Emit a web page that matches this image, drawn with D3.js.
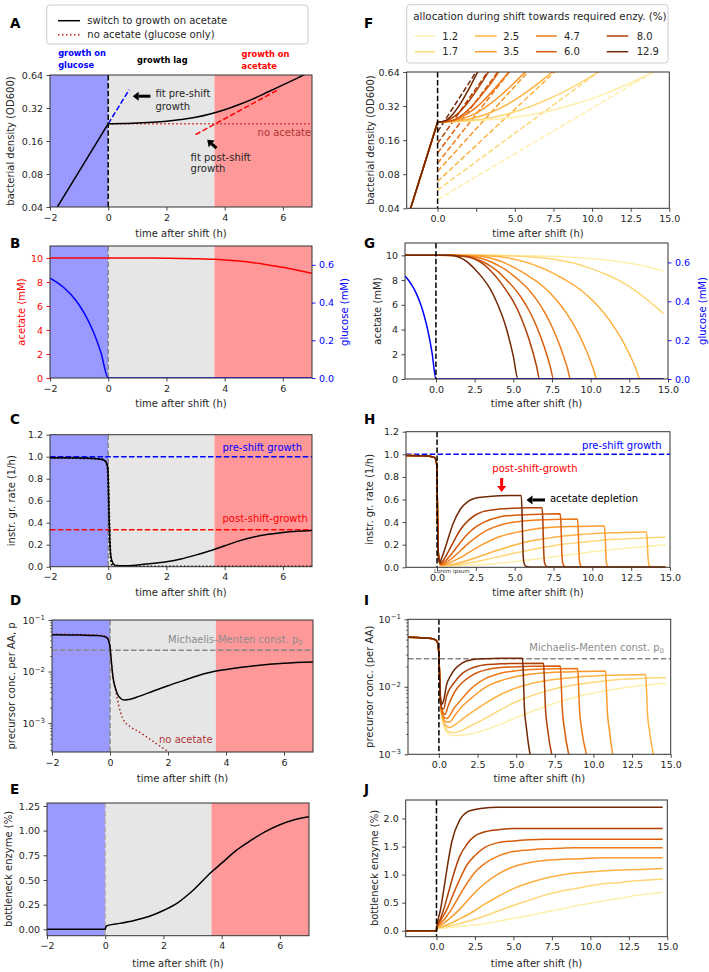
<!DOCTYPE html>
<html><head><meta charset="utf-8">
<script src="https://cdn.jsdelivr.net/npm/d3@7/dist/d3.min.js"></script>
<style>
html,body{margin:0;padding:0;background:#fff;}
svg{display:block;font-family:"DejaVu Sans",sans-serif;}
</style></head><body>
<svg id="fig" width="709" height="972"></svg>
<script>
// ================= DATA =================
// ---- left column (single simulation) ----
const shiftRegions = [[-2,0,"glucose"],[0,3.65,"lag"],[3.65,7,"acetate"]];
const odPreShift = [[-2,0.0311],[-1,0.0846],[0,0.23]];
const odSwitch = [[0,0.23],[0.5,0.231],[1,0.234],[1.5,0.237],[2,0.242],[2.5,0.251],[3,0.263],[3.5,0.282],[4,0.308],[4.5,0.344],[5,0.39],[5.5,0.45],[6,0.52],[6.5,0.6],[7,0.7]];
const odNoAcetate = [[0,0.23],[7,0.23]];
const fitPreShift = [[0,0.23],[0.72,0.47]];
const fitPostShift = [[3.0,0.183],[5.87,0.475]];
const acetateB = [[-2,10],[0,10],[1,10],[2,9.98],[3,9.94],[3.65,9.89],[4,9.84],[4.5,9.74],[5,9.6],[5.5,9.42],[6,9.22],[6.5,8.98],[7,8.72]];
const glucose = [[-2,0.53],[-1.75,0.506],[-1.5,0.476],[-1.25,0.437],[-1,0.387],[-0.75,0.323],[-0.5,0.241],[-0.25,0.135],[0,0],[14.7,0]];
const rateSwitch = [[-2,0.99],[-1,0.988],[-0.5,0.984],[-0.2,0.975],[-0.1,0.96],[-0.03,0.92],[0,0.8],[0.03,0.45],[0.06,0.2],[0.1,0.08],[0.2,0.02],[0.3,0.01],[0.5,0.008],[1,0.015],[1.5,0.028],[2,0.045],[2.5,0.07],[3,0.105],[3.5,0.145],[4,0.19],[4.5,0.235],[5,0.27],[5.5,0.295],[6,0.312],[6.5,0.323],[7,0.33]];
const rateNoAcetate = [[-2,0.99],[-1,0.988],[-0.5,0.984],[-0.2,0.975],[-0.1,0.96],[-0.03,0.92],[0,0.8],[0.03,0.45],[0.06,0.2],[0.1,0.05],[0.15,0.005],[0.3,0],[7,0]];
const preShiftRate = 1.0, postShiftRate = 0.337;
const precSwitch = [[-2,0.052],[-1,0.051],[-0.5,0.05],[-0.2,0.048],[-0.1,0.045],[-0.05,0.04],[0,0.03],[0.05,0.015],[0.1,0.008],[0.2,0.0045],[0.3,0.0033],[0.5,0.0028],[0.7,0.0029],[1,0.0033],[1.5,0.0042],[2,0.0053],[2.5,0.0066],[3,0.0082],[3.65,0.0102],[4,0.011],[5,0.013],[6,0.0145],[7,0.0153]];
const precNoAcetate = [[-2,0.053],[-1,0.052],[-0.5,0.051],[-0.2,0.049],[-0.1,0.046],[-0.05,0.04],[0,0.03],[0.05,0.015],[0.1,0.008],[0.2,0.0042],[0.3,0.0022],[0.45,0.0012],[0.7,0.00085],[1,0.00068],[1.3,0.00052],[1.6,0.0004],[2,0.00028]];
const michaelisMenten = 0.026;
const enzymeSwitch = [[-2,0],[0,0],[0.03,0.03],[0.1,0.04],[0.5,0.06],[1,0.09],[1.5,0.13],[2,0.19],[2.5,0.27],[3,0.39],[3.65,0.58],[4,0.67],[4.5,0.8],[5,0.9],[5.5,0.99],[6,1.06],[6.5,1.11],[7,1.14]];

// ---- right column (allocation scan) ----
const allocation = ["1.2","1.7","2.5","3.5","4.7","6.0","8.0","12.9"];
const odScanPre = [[-2,0.0311],[-1,0.0846],[0,0.23]];
const odScan = [
 [[0,0.23],[1,0.2325],[2,0.236],[3,0.24],[4,0.246],[5,0.255],[6,0.268],[7,0.285],[8,0.308],[9,0.337],[10,0.374],[11,0.419],[12,0.479],[13,0.552],[14,0.643],[15,0.76]],
 [[0,0.23],[1,0.233],[2,0.238],[3,0.247],[4,0.262],[5,0.285],[6,0.317],[7,0.36],[8,0.417],[9,0.493],[10,0.592],[11,0.716]],
 [[0,0.23],[1,0.235],[2,0.245],[3,0.267],[4,0.304],[5,0.363],[6,0.45],[7,0.574],[8,0.747]],
 [[0,0.23],[1,0.237],[2,0.258],[3,0.306],[3.5,0.343],[4,0.389],[5,0.519],[5.5,0.607],[6,0.713]],
 [[0,0.23],[0.5,0.233],[1,0.24],[1.5,0.254],[2,0.278],[2.5,0.312],[3,0.36],[3.5,0.425],[4,0.508],[4.5,0.614],[5,0.747]],
 [[0,0.23],[0.5,0.233],[1,0.239],[1.5,0.261],[2,0.298],[2.5,0.351],[3,0.425],[3.5,0.52],[4,0.656]],
 [[0,0.23],[0.5,0.236],[1,0.254],[1.5,0.291],[2,0.35],[2.5,0.436],[3,0.554],[3.5,0.711]],
 [[0,0.23],[0.5,0.238],[1,0.273],[1.5,0.34],[2,0.447],[2.5,0.604],[3,0.823]]
];
const odScanFit = [
 [[0,0.048],[14.96,0.77]],
 [[0,0.058],[11.4,0.806]],
 [[0,0.069],[8.58,0.859]],
 [[0,0.085],[6.84,0.904]],
 [[0,0.10],[5.65,0.955]],
 [[0,0.123],[4.89,0.978]],
 [[0,0.15],[4.24,1.002]],
 [[0,0.19],[3.49,1.043]]
];
const acetateScan = [
 [[-2,10],[0,10],[4,10],[6,9.97],[8,9.9],[9,9.83],[10,9.74],[11,9.62],[12,9.46],[13,9.25],[14,8.97],[14.7,8.72]],
 [[-2,10],[0,10],[3,10],[5,9.95],[6,9.88],[7,9.78],[8,9.6],[9,9.35],[10,8.95],[11,8.45],[12,7.85],[13,7.05],[14,6.05],[14.7,5.3]],
 [[-2,10],[0,10],[2,10],[3,9.98],[3.5,9.95],[4,9.9],[4.5,9.82],[5,9.7],[5.5,9.55],[6,9.38],[6.5,9.15],[7,8.9],[7.5,8.6],[8,8.27],[8.5,7.92],[9,7.52],[9.5,7.06],[10,6.5],[10.5,5.86],[11,5.11],[11.5,4.23],[12,3.22],[12.5,2.02],[12.9,0.92],[13.2,0],[14.7,0]],
 [[-2,10],[0,10],[2,9.99],[2.5,9.96],[3,9.9],[3.5,9.78],[4,9.6],[4.5,9.35],[5,9.05],[5.5,8.7],[6,8.32],[6.5,7.91],[7,7.4],[7.5,6.8],[8,6.07],[8.5,5.21],[9,4.17],[9.5,2.93],[10.2,0.73],[10.4,0],[14.7,0]],
 [[-2,10],[0,10],[1.5,9.99],[2,9.95],[2.5,9.87],[3,9.72],[3.5,9.5],[4,9.2],[4.5,8.85],[5,8.36],[5.5,7.84],[6,7.21],[6.5,6.42],[7,5.45],[7.5,4.23],[8,2.73],[8.5,0.865],[8.7,0],[14.7,0]],
 [[-2,10],[0,10],[1,10],[1.5,9.97],[2,9.9],[2.5,9.75],[3,9.5],[3.5,9.15],[4,8.7],[4.5,8.09],[5,7.43],[5.5,6.61],[6,5.58],[6.5,4.27],[7,2.6],[7.4,0.95],[7.6,0],[14.7,0]],
 [[-2,10],[0,10],[1,10],[1.5,9.97],[2,9.88],[2.5,9.7],[3,9.35],[3.5,8.8],[4,8.1],[4.5,7.25],[5,6.27],[5.5,4.97],[6,3.27],[6.5,1.06],[6.7,0],[14.7,0]],
 [[-2,10],[0,10],[0.5,10],[1,9.98],[1.5,9.85],[2,9.5],[2.5,8.9],[3,8.2],[3.5,7.3],[4,6.0],[4.5,4.3],[5,1.85],[5.3,0],[14.7,0]]
];
const rateScanPre = [[-2,0.99],[-1,0.988],[-0.5,0.984],[-0.2,0.975],[-0.1,0.96],[-0.03,0.92],[0,0.8],[0.03,0.45],[0.06,0.2],[0.1,0.09],[0.15,0.05]];
const rateScan = [
 [[0.2,0.018],[0.5,0.012],[1,0.014],[2,0.019],[3,0.025],[4,0.036],[5,0.05],[6,0.066],[7,0.084],[8,0.102],[9,0.12],[10,0.137],[11,0.152],[12,0.166],[13,0.179],[14,0.191],[14.7,0.2]],
 [[0.2,0.02],[0.5,0.014],[1,0.018],[2,0.038],[3,0.063],[4,0.094],[5,0.126],[6,0.154],[7,0.179],[8,0.202],[9,0.217],[10,0.23],[11,0.244],[12,0.25],[13,0.258],[14,0.264],[14.7,0.266]],
 [[0.2,0.022],[0.25,0.015],[0.5,0.018],[1,0.026],[1.5,0.043],[2,0.062],[2.5,0.085],[3,0.109],[4,0.155],[5,0.197],[6,0.232],[7,0.254],[8,0.275],[9,0.287],[10,0.298],[11,0.304],[12,0.309],[13,0.311],[13.48,0.312],[13.53,0.25],[13.58,0.1],[13.64,0.022],[13.77,0.005],[14,0.002],[14.7,0]],
 [[0.2,0.025],[0.25,0.02],[0.5,0.025],[1,0.052],[1.5,0.085],[2,0.128],[2.5,0.168],[3,0.207],[4,0.27],[5,0.307],[6,0.333],[7,0.35],[8,0.358],[9,0.361],[10,0.364],[10.77,0.366],[10.82,0.29],[10.87,0.11],[10.93,0.025],[11.06,0.005],[11.3,0.002],[14.7,0]],
 [[0.2,0.028],[0.25,0.024],[0.5,0.034],[1,0.084],[1.5,0.146],[2,0.209],[2.5,0.264],[3,0.312],[4,0.37],[5,0.401],[6,0.415],[7,0.421],[8,0.425],[9.04,0.427],[9.09,0.34],[9.14,0.13],[9.2,0.03],[9.33,0.006],[9.6,0.002],[14.7,0]],
 [[0.2,0.03],[0.25,0.028],[0.5,0.052],[1,0.13],[1.5,0.22],[2,0.299],[2.5,0.358],[3,0.398],[4,0.446],[5,0.461],[6,0.467],[7,0.472],[7.93,0.474],[7.98,0.38],[8.03,0.15],[8.09,0.035],[8.22,0.007],[8.5,0.002],[14.7,0]],
 [[0.2,0.035],[0.25,0.037],[0.5,0.084],[1,0.21],[1.5,0.332],[2,0.413],[2.5,0.465],[3,0.495],[4,0.515],[5,0.523],[6,0.527],[6.76,0.527],[6.81,0.42],[6.86,0.17],[6.92,0.04],[7.05,0.008],[7.3,0.002],[14.7,0]],
 [[0.2,0.045],[0.25,0.064],[0.5,0.16],[0.75,0.27],[1,0.375],[1.5,0.514],[2,0.584],[2.5,0.613],[3,0.622],[4,0.633],[5,0.635],[5.42,0.635],[5.47,0.5],[5.52,0.2],[5.58,0.05],[5.7,0.01],[6,0.003],[14.7,0]]
];
const precScanPre = [[-2,0.054],[-1,0.053],[-0.5,0.052],[-0.2,0.049],[-0.1,0.046],[-0.05,0.04],[0,0.03],[0.05,0.013],[0.1,0.0065]];
const precScan = [
 [[0.15,0.004],[0.2,0.0034],[0.3,0.0027],[0.5,0.0021],[0.8,0.0019],[1,0.0019],[2,0.002],[3,0.0023],[4,0.0028],[5,0.0035],[6,0.0043],[7,0.0052],[8,0.0062],[9,0.0072],[10,0.0081],[11,0.0089],[12,0.0097],[13,0.0104],[14,0.011],[14.7,0.0113]],
 [[0.15,0.0042],[0.2,0.0036],[0.3,0.0029],[0.5,0.0023],[0.8,0.0021],[1,0.0021],[2,0.0026],[3,0.0034],[4,0.0046],[5,0.006],[6,0.0074],[7,0.0087],[8,0.0099],[9,0.0109],[10,0.0117],[11,0.0124],[12,0.0129],[13,0.0133],[14,0.0136],[14.7,0.0137]],
 [[0.15,0.0044],[0.2,0.0038],[0.3,0.0031],[0.5,0.0026],[0.7,0.0025],[1,0.0027],[1.5,0.0033],[2,0.004],[2.5,0.0048],[3,0.0057],[4,0.0077],[5,0.0096],[6,0.0112],[7,0.0124],[8,0.0133],[9,0.014],[10,0.0144],[11,0.0148],[12,0.015],[13.38,0.0152],[13.43,0.0095],[13.5,0.004],[13.63,0.0022],[13.88,0.001],[14.05,0.0007]],
 [[0.15,0.0046],[0.2,0.0041],[0.3,0.0034],[0.5,0.003],[0.7,0.003],[1,0.0037],[1.5,0.0051],[2,0.0065],[2.5,0.0081],[3,0.0098],[4,0.0123],[5,0.0142],[6,0.0155],[7,0.0162],[8,0.0166],[9,0.0168],[10,0.017],[10.78,0.0171],[10.83,0.0105],[10.9,0.0043],[11.03,0.0023],[11.25,0.001],[11.45,0.0007]],
 [[0.15,0.0048],[0.2,0.0042],[0.3,0.0036],[0.5,0.0034],[1,0.0049],[1.5,0.0067],[2,0.009],[2.5,0.0112],[3,0.0132],[4,0.0159],[5,0.0173],[6,0.0181],[7,0.0184],[8.98,0.0187],[9.03,0.0115],[9.1,0.0046],[9.23,0.0024],[9.55,0.001],[9.75,0.0007]],
 [[0.15,0.005],[0.2,0.0045],[0.4,0.0039],[0.6,0.0052],[1,0.0083],[1.5,0.0115],[2,0.0142],[2.5,0.0163],[3,0.0177],[4,0.0193],[5,0.0198],[6,0.0201],[7.86,0.0203],[7.91,0.0123],[7.98,0.0048],[8.11,0.0025],[8.4,0.001],[8.6,0.0007]],
 [[0.15,0.0052],[0.2,0.0048],[0.3,0.0047],[0.5,0.0073],[1,0.0116],[1.5,0.0157],[2,0.0184],[2.5,0.0202],[3,0.0212],[4,0.0219],[5,0.0222],[6.77,0.0223],[6.82,0.0135],[6.89,0.005],[7.02,0.0025],[7.3,0.001],[7.5,0.0007]],
 [[0.15,0.0056],[0.2,0.0055],[0.3,0.0062],[0.5,0.0108],[0.75,0.0145],[1,0.0179],[1.5,0.0225],[2,0.0248],[2.5,0.0258],[3,0.0261],[4,0.0264],[5.41,0.0265],[5.46,0.016],[5.53,0.005],[5.66,0.0025],[5.9,0.001],[6.1,0.0007]]
];
const enzymeScan = [
 [[-2,0],[0,0],[0.03,0.03],[1,0.06],[2,0.088],[3,0.12],[4,0.17],[5,0.22],[6,0.27],[7,0.33],[8,0.38],[9,0.44],[10,0.49],[11,0.54],[12,0.58],[13,0.63],[14,0.66],[14.7,0.685]],
 [[-2,0],[0,0],[0.03,0.04],[0.5,0.067],[1,0.093],[2,0.165],[3,0.25],[4,0.35],[5,0.45],[6,0.54],[7,0.63],[8,0.7],[9,0.75],[10,0.8],[11,0.84],[12,0.86],[13,0.89],[14,0.91],[14.7,0.915]],
 [[-2,0],[0,0],[0.03,0.05],[0.25,0.07],[0.5,0.09],[1,0.14],[1.5,0.21],[2,0.28],[2.5,0.36],[3,0.45],[4,0.61],[5,0.75],[6,0.85],[7,0.93],[8,0.99],[9,1.03],[10,1.05],[11,1.07],[12,1.08],[13,1.09],[14,1.1],[14.7,1.11]],
 [[-2,0],[0,0],[0.03,0.06],[0.25,0.1],[0.5,0.14],[1,0.25],[1.5,0.38],[2,0.53],[2.5,0.68],[3,0.81],[4,1.01],[5,1.14],[6,1.21],[7,1.25],[8,1.27],[9,1.28],[10,1.29],[11,1.3],[14.7,1.3]],
 [[-2,0],[0,0],[0.03,0.07],[0.25,0.13],[0.5,0.2],[0.75,0.29],[1,0.39],[1.5,0.63],[2,0.85],[2.5,1.04],[3,1.17],[4,1.33],[5,1.41],[6,1.44],[7,1.46],[8,1.47],[9,1.48],[14.7,1.48]],
 [[-2,0],[0,0],[0.03,0.08],[0.25,0.17],[0.5,0.29],[0.75,0.42],[1,0.59],[1.5,0.91],[2,1.18],[2.5,1.34],[3,1.46],[4,1.57],[5,1.6],[6,1.62],[7,1.63],[14.7,1.63]],
 [[-2,0],[0,0],[0.03,0.08],[0.25,0.21],[0.5,0.41],[0.75,0.65],[1,0.9],[1.5,1.32],[2,1.55],[2.5,1.69],[3,1.75],[4,1.8],[5,1.82],[14.7,1.82]],
 [[-2,0],[0,0],[0.03,0.08],[0.25,0.36],[0.5,0.78],[0.75,1.22],[1,1.59],[1.5,1.97],[2,2.12],[2.5,2.16],[3,2.185],[4,2.2],[14.7,2.2]]
];

// tick values / labels
const xTicksLeft = [-2,0,2,4,6], xLabelsLeft = ["\u22122","0","2","4","6"];
const xTicksRight = [0,2.5,5,7.5,10,12.5,15];
const xLabelsRight = ["0.0","2.5","5.0","7.5","10.0","12.5","15.0"];
const xLabelsF = ["0.0","","5.0","7.5","10.0","12.5","15.0"];
const odTicks = [0.04,0.08,0.16,0.32,0.64], odLabels = ["0.04","0.08","0.16","0.32","0.64"];
const acetTicks = [0,2,4,6,8,10], glucTicks = [0,0.2,0.4,0.6], glucLabels=["0.0","0.2","0.4","0.6"];
const rateTicks = [0,0.2,0.4,0.6,0.8,1.0,1.2], rateLabels=["0.0","0.2","0.4","0.6","0.8","1.0","1.2"];
const enzTicksE = [0,0.25,0.5,0.75,1,1.25], enzLabelsE=["0.00","0.25","0.50","0.75","1.00","1.25"];
const enzTicksJ = [0,0.5,1,1.5,2], enzLabelsJ=["0.0","0.5","1.0","1.5","2.0"];

// ================= DRAW =================
const svg = d3.select("#fig");
const FONT = '"DejaVu Sans", sans-serif';
const TXT = '#262626';
const BLUE='#0000ff', RED='#ff0000';
const allocColor = i => d3.interpolateYlOrBr([0.18,0.3,0.42,0.5,0.6,0.7,0.82,0.97][i]);

let clipN=0;
function panel(x0,x1,y0,y1,xd,yd,log){
  const g=svg.append('g');
  const x=d3.scaleLinear().domain(xd).range([x0,x1]);
  const y=(log?d3.scaleLog():d3.scaleLinear()).domain(yd).range([y1,y0]);
  const id='cp'+(clipN++);
  svg.append('clipPath').attr('id',id).append('rect').attr('x',x0).attr('y',y0).attr('width',x1-x0).attr('height',y1-y0);
  const plot=g.append('g').attr('clip-path',`url(#${id})`);
  return {g,plot,x,y,o:{x0,x1,y0,y1}};
}
function shade(p){
  const cols={glucose:'#9999ff',lag:'#e6e6e6',acetate:'#ff9999'};
  shiftRegions.forEach(r=>{
    p.plot.append('rect').attr('x',p.x(r[0])).attr('width',p.x(r[1])-p.x(r[0]))
     .attr('y',p.o.y0).attr('height',p.o.y1-p.o.y0).attr('fill',cols[r[2]]);
  });
}
function frame(p){
  p.g.append('rect').attr('x',p.o.x0).attr('y',p.o.y0).attr('width',p.o.x1-p.o.x0).attr('height',p.o.y1-p.o.y0)
   .attr('fill','none').attr('stroke','#333').attr('stroke-width',1);
}
function styleAxis(a,color){
  a.select('.domain').remove();
  a.selectAll('.tick line').attr('stroke','#333').attr('stroke-width',0.9);
  a.selectAll('.tick text').attr('fill',color||TXT).attr('font-size',9.5).attr('font-family',FONT);
}
function xAxis(p,vals,labs){
  const a=p.g.append('g').attr('transform',`translate(0,${p.o.y1})`)
   .call(d3.axisBottom(p.x).tickValues(vals).tickFormat((d,i)=>labs[i]).tickSize(3.5).tickPadding(3.5));
  styleAxis(a);
}
function yAxis(p,scale,vals,labs,right,color){
  const gen=right?d3.axisRight(scale):d3.axisLeft(scale);
  const a=p.g.append('g').attr('transform',`translate(${right?p.o.x1:p.o.x0},0)`)
   .call(gen.tickValues(vals).tickFormat((d,i)=>labs[i]).tickSize(3.5).tickPadding(3.5));
  styleAxis(a,color);
  if(color) a.selectAll('.tick line').attr('stroke',color);
  return a;
}
function logYAxis(p,majors,minors){
  const a=p.g.append('g').attr('transform',`translate(${p.o.x0},0)`)
   .call(d3.axisLeft(p.y).tickValues(majors).tickFormat(()=>'').tickSize(3.5).tickPadding(3.5));
  styleAxis(a);
  a.selectAll('.tick text').each(function(d){
    const t=d3.select(this); t.text(null);
    t.append('tspan').text('10');
    t.append('tspan').attr('dy','-0.5em').attr('font-size',7).text('\u2212'+Math.round(-Math.log10(d)));
  });
  const m=p.g.append('g').attr('transform',`translate(${p.o.x0},0)`)
   .call(d3.axisLeft(p.y).tickValues(minors).tickFormat(()=>'').tickSize(2));
  m.select('.domain').remove(); m.selectAll('.tick line').attr('stroke','#333').attr('stroke-width',0.7);
}
function minorLog(lo,hi){const r=[];for(let e=lo;e<hi;e++)for(let k=2;k<10;k++){r.push(k*Math.pow(10,e));}return r;}
function xTitle(p,yb){
  p.g.append('text').attr('x',(p.o.x0+p.o.x1)/2).attr('y',yb).attr('text-anchor','middle')
   .attr('font-size',10).attr('fill',TXT).text('time after shift (h)');
}
function yTitle(xb,yc,txt,color){
  svg.append('text').attr('transform',`translate(${xb},${yc}) rotate(-90)`).attr('text-anchor','middle')
   .attr('font-size',10).attr('fill',color||TXT).text(txt);
}
function letter(x,y,t){
  svg.append('text').attr('x',x).attr('y',y).attr('font-size',13.5).attr('font-weight','bold').attr('fill','#000').text(t);
}
function path(p,data,color,w,dash,curve){
  const ln=d3.line().x(d=>p.x(d[0])).y(d=>p.y(d[1])).curve(curve||d3.curveMonotoneX);
  return p.plot.append('path').datum(data).attr('d',ln).attr('fill','none').attr('stroke',color)
    .attr('stroke-width',w||1.5).attr('stroke-dasharray',dash||null).attr('stroke-linejoin','round');
}
function vline(p,xv,color,dash){
  p.plot.append('line').attr('x1',p.x(xv)).attr('x2',p.x(xv)).attr('y1',p.o.y0).attr('y2',p.o.y1)
   .attr('stroke',color).attr('stroke-width',1.5).attr('stroke-dasharray',dash||'5.5,2.4');
}
function hline(p,yv,color){
  p.plot.append('line').attr('x1',p.o.x0).attr('x2',p.o.x1).attr('y1',p.y(yv)).attr('y2',p.y(yv))
   .attr('stroke',color).attr('stroke-width',1.5).attr('stroke-dasharray','5.5,2.4');
}
function arrow(x1,y1,x2,y2,color){
  const dx=x2-x1, dy=y2-y1, L=Math.hypot(dx,dy), ux=dx/L, uy=dy/L;
  const hl=6, hw=4.5;
  const bx=x2-ux*hl, by=y2-uy*hl;
  svg.append('line').attr('x1',x1).attr('y1',y1).attr('x2',bx).attr('y2',by).attr('stroke',color).attr('stroke-width',3);
  svg.append('path').attr('d',`M${x2},${y2}L${bx-uy*hw},${by+ux*hw}L${bx+uy*hw},${by-ux*hw}Z`).attr('fill',color);
}
function note(x,y,t,color,anchor,size,weight){
  return svg.append('text').attr('x',x).attr('y',y).attr('text-anchor',anchor||'start').attr('font-size',size||10)
   .attr('font-weight',weight||'normal').attr('fill',color||TXT).text(t);
}

// ---------- Panel A ----------
const pA=panel(50,312,75,207,[-2,7],[0.04,0.64],true);
shade(pA);
path(pA,odNoAcetate,'#cc2222',1.5,'1.5,2.5');
path(pA,fitPreShift,BLUE,1.5,'5.5,2.4',d3.curveLinear);
path(pA,fitPostShift,RED,1.5,'5.5,2.4',d3.curveLinear);
path(pA,odPreShift,'#000',1.5,null,d3.curveLinear);
path(pA,odSwitch,'#000',1.5);
vline(pA,0,'#000');
frame(pA);
xAxis(pA,xTicksLeft,xLabelsLeft);
yAxis(pA,pA.y,odTicks,odLabels);
xTitle(pA,237);
yTitle(14,141,'bacterial density (OD600)');
note(pA.x(6.97),pA.y(0.193)+3.5,'no acetate','#b03535','end');
note(pA.x(1.62),pA.y(0.43)+3.5,'fit pre-shift');
note(pA.x(1.62),pA.y(0.327)+3.5,'growth');
note(pA.x(2.83),pA.y(0.114)+3.5,'fit post-shift');
note(pA.x(2.83),pA.y(0.089)+3.5,'growth');
arrow(pA.x(1.45),pA.y(0.41),pA.x(0.84),pA.y(0.41),'#000');
arrow(pA.x(3.72),pA.y(0.138),pA.x(3.40),pA.y(0.164),'#000');
note(pA.x(-1.72),56,'growth on',BLUE,'start',8.3,'bold');
note(pA.x(-1.72),68,'glucose',BLUE,'start',8.3,'bold');
note(pA.x(1.86),63,'growth lag','#000','middle',8.3,'bold');
note(pA.x(4.58),57,'growth on',RED,'start',8.3,'bold');
note(pA.x(4.58),69,'acetate',RED,'start',8.3,'bold');
// legend A
svg.append('rect').attr('x',46.7).attr('y',5).attr('width',261.3).attr('height',39).attr('rx',3)
  .attr('fill','#fff').attr('fill-opacity',0.85).attr('stroke','#cccccc').attr('stroke-width',1);
svg.append('line').attr('x1',58).attr('x2',80).attr('y1',20.7).attr('y2',20.7).attr('stroke','#000').attr('stroke-width',1.5);
svg.append('line').attr('x1',58).attr('x2',80).attr('y1',34.7).attr('y2',34.7).attr('stroke','#cc2222').attr('stroke-width',1.5).attr('stroke-dasharray','1.5,2.5');
note(87.3,24.3,'switch to growth on acetate');
note(87.3,38.3,'no acetate (glucose only)');
letter(10,28,'A');

// ---------- Panel B ----------
const pB=panel(50,312,246,378,[-2,7],[0,11]);
const yGlB=d3.scaleLinear().domain([0,0.7]).range([378,246]);
shade(pB);
vline(pB,0,'#888');
path(pB,acetateB,RED);
pB.plot.append('path').datum(glucose).attr('fill','none').attr('stroke',BLUE).attr('stroke-width',1.5)
  .attr('d',d3.line().x(d=>pB.x(d[0])).y(d=>yGlB(d[1])).curve(d3.curveMonotoneX));
frame(pB);
xAxis(pB,xTicksLeft,xLabelsLeft);
yAxis(pB,pB.y,acetTicks,acetTicks.map(String),false,RED);
yAxis(pB,yGlB,glucTicks,glucLabels,true,BLUE);
xTitle(pB,407);
yTitle(25,312,'acetate (mM)',RED);
yTitle(348,312,'glucose (mM)',BLUE);
letter(10,248,'B');

// ---------- Panel C ----------
const pC=panel(50,312,434.7,566.7,[-2,7],[0,1.2]);
shade(pC);
vline(pC,0,'#888');
hline(pC,preShiftRate,BLUE);
hline(pC,postShiftRate,RED);
path(pC,rateNoAcetate,'#000',2.2,'1.5,2.2');
path(pC,rateSwitch,'#000',1.5);
frame(pC);
xAxis(pC,xTicksLeft,xLabelsLeft);
yAxis(pC,pC.y,rateTicks,rateLabels);
xTitle(pC,596);
yTitle(15,500.7,'instr. gr. rate (1/h)');
note(pC.x(5.29),pC.y(1.088)+3.5,'pre-shift growth',BLUE,'middle');
note(pC.x(5.39),pC.y(0.434)+3.5,'post-shift-growth',RED,'middle');
letter(10,424,'C');

// ---------- Panel D ----------
const pD=panel(52,313,620,752,[-2,7],[0.000275,0.1],true);
shade(pD);
vline(pD,0,'#888');
hline(pD,michaelisMenten,'#888');
path(pD,precNoAcetate,'#b22222',1.5,'1.5,2.5');
path(pD,precSwitch,'#000',1.5);
frame(pD);
xAxis(pD,xTicksLeft,xLabelsLeft);
logYAxis(pD,[0.001,0.01,0.1],minorLog(-4,-1).filter(v=>v>=0.000275&&v<0.1));
xTitle(pD,782);
yTitle(15,686,'precursor conc. per AA, p');
{const t=note(pD.x(2.0),pD.y(0.041)+3.5,'Michaelis-Menten const. p','#8c8c8c');
 t.append('tspan').attr('font-size',6.5).attr('dy','2').text('0');}
note(pD.x(1.69),pD.y(0.00048)+3.5,'no acetate','#b03535');
letter(10,605,'D');

// ---------- Panel E ----------
const pE=panel(47,309,803,935.7,[-2,7],[-0.065,1.28]);
shade(pE);
vline(pE,0,'#b0b0b0');
path(pE,enzymeSwitch,'#000',1.5);
frame(pE);
xAxis(pE,xTicksLeft,xLabelsLeft);
yAxis(pE,pE.y,enzTicksE,enzLabelsE);
xTitle(pE,967);
yTitle(12,869,'bottleneck enzyme (%)');
letter(10,794,'E');

// ---------- Panel F ----------
const pF=panel(406.7,669.3,72,208.3,[-2,15],[0.04,0.64],true);
odScan.forEach((s,i)=>{ path(pF,odScanFit[i],allocColor(i),1.5,'5.5,2.4',d3.curveLinear); });
odScan.forEach((s,i)=>{ path(pF,odScanPre,allocColor(i),1.5,null,d3.curveLinear); path(pF,s,allocColor(i),1.5); });
vline(pF,0,'#000');
frame(pF);
xAxis(pF,xTicksRight,xLabelsF);
yAxis(pF,pF.y,odTicks,odLabels);
xTitle(pF,237);
yTitle(374,140,'bacterial density (OD600)');
letter(364,28,'F');
// legend F
svg.append('rect').attr('x',406.7).attr('y',4.7).attr('width',261.3).attr('height',58.3).attr('rx',3)
  .attr('fill','#fff').attr('fill-opacity',0.85).attr('stroke','#cccccc').attr('stroke-width',1);
note(413.3,19.5,'allocation during shift towards required enzy. (%)','#262626','start',10.3);
const legCols=[[415,435,442.3],[475,496.7,503.3],[536,556.7,564],[606.7,628.3,636.7]];
allocation.forEach((a,i)=>{
  const c=legCols[Math.floor(i/2)], yy=(i%2===0)?36:51.7;
  svg.append('line').attr('x1',c[0]).attr('x2',c[1]).attr('y1',yy).attr('y2',yy).attr('stroke',allocColor(i)).attr('stroke-width',1.5);
  note(c[2],yy+3.5,a);
});

// ---------- Panel G ----------
const pG=panel(405,668,243,379,[-2,15],[0,11]);
const yGlG=d3.scaleLinear().domain([0,0.7]).range([379,243]);
acetateScan.forEach((s,i)=>path(pG,s,allocColor(i),1.5));
pG.plot.append('path').datum(glucose).attr('fill','none').attr('stroke',BLUE).attr('stroke-width',1.5)
  .attr('d',d3.line().x(d=>pG.x(d[0])).y(d=>yGlG(d[1])).curve(d3.curveMonotoneX));
vline(pG,0,'#000');
frame(pG);
xAxis(pG,xTicksRight,xLabelsRight);
yAxis(pG,pG.y,acetTicks,acetTicks.map(String));
yAxis(pG,yGlG,glucTicks,glucLabels,true,BLUE);
xTitle(pG,407);
yTitle(381,311,'acetate (mM)');
yTitle(706,311,'glucose (mM)',BLUE);
letter(364,248,'G');

// ---------- Panel H ----------
const pH=panel(406,670,431.7,567.3,[-2,15],[0,1.2]);
hline(pH,preShiftRate,BLUE);
rateScan.forEach((s,i)=>path(pH,rateScanPre.concat(s),allocColor(i),1.5));
vline(pH,0,'#000');
frame(pH);
xAxis(pH,xTicksRight,xLabelsRight);
yAxis(pH,pH.y,rateTicks,rateLabels);
xTitle(pH,596);
yTitle(373,499.5,'instr. gr. rate (1/h)');
note(pH.x(11.9),pH.y(1.076)+3.5,'pre-shift growth',BLUE,'middle');
note(pH.x(6.3),pH.y(0.87)+3.5,'post-shift-growth',RED,'middle');
arrow(pH.x(4.16),pH.y(0.79),pH.x(4.16),pH.y(0.667),RED);
note(pH.x(7.27),pH.y(0.61)+3.5,'acetate depletion','#000');
arrow(pH.x(6.95),pH.y(0.596),pH.x(5.76),pH.y(0.596),'#000');
note(434,573,'Lorem ipsum','#333','start',5.5);
letter(364,424,'H');

// ---------- Panel I ----------
const pI=panel(408,670.7,619.3,754.3,[-2,15],[0.001,0.1],true);
hline(pI,michaelisMenten,'#888');
precScan.forEach((s,i)=>path(pI,precScanPre.concat(s),allocColor(i),1.5));
vline(pI,0,'#000');
frame(pI);
xAxis(pI,xTicksRight,xLabelsRight);
logYAxis(pI,[0.001,0.01,0.1],minorLog(-3,-1));
xTitle(pI,782);
yTitle(373,686.8,'precursor conc. (per AA)');
{const t=note(pI.x(5.85),pI.y(0.0385)+3.5,'Michaelis-Menten const. p','#8c8c8c');
 t.append('tspan').attr('font-size',6.5).attr('dy','2').text('0');}
letter(364,605,'I');

// ---------- Panel J ----------
const pJ=panel(405.7,667.3,800,936.7,[-2,15],[-0.107,2.33]);
enzymeScan.forEach((s,i)=>path(pJ,s,allocColor(i),1.5));
vline(pJ,0,'#000');
frame(pJ);
xAxis(pJ,xTicksRight,xLabelsRight);
yAxis(pJ,pJ.y,enzTicksJ,enzLabelsJ);
xTitle(pJ,967);
yTitle(378,868,'bottleneck enzyme (%)');
letter(364,794,'J');
</script>
</body></html>
